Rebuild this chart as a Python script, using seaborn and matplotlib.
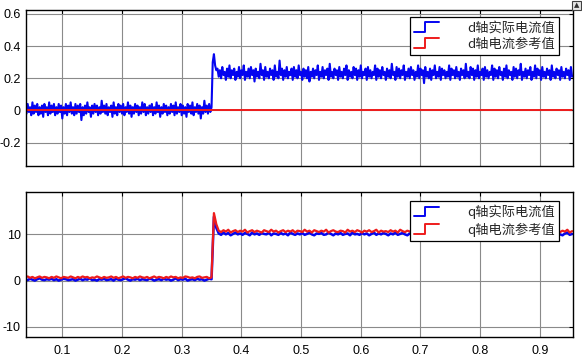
import numpy as np
import matplotlib
matplotlib.use("Agg")
import matplotlib.pyplot as plt
import seaborn as sns
from matplotlib.legend_handler import HandlerBase
from matplotlib.lines import Line2D
from matplotlib.patches import Rectangle

# sample clocks of the scope (s)
t0 = 0.038
d_dt = 0.002
d_samples = 459
q_dt = 0.004
q_samples = 230

# d axis actual current, hundredths of A
d_act_pre = [3, -2, 4, -1, 2, -3, 5, -2, 3, -1, 4, -3, 2, -2, 3, -4, 4, -1, 2, -3,
             5, -2, 3, -1, 4, -3, 2, -2, 4, -1, 3, -5, 2, -2, 4, -3, 3, -1, 5, -2,
             2, -3, 4, -2, 3, -1, 4, -6, 2, -3, 3, -2, 5, -1, 2, -4, 3, -2, 4, -1,
             3, -3, 2, -2, 6, -1, 3, -2, 4, -3, 2, -1, 3, -4, 5, -2, 2, -3, 4, -1,
             3, -2, 4, -3, 2, -1, 5, -2, 3, -4, 2, -2, 4, -1, 3, -3, 2, -2, 5, -1,
             4, -3, 2, -2, 3, -1, 4, -3, 2, -2, 5, -1, 3, -4, 2, -2, 4, -1, 3, -3,
             2, -2, 4, -1, 3, -3, 5, -2, 2, -1, 4, -3, 3, -2, 2, -4, 4, -1, 3, -2,
             5, -3, 2, -1, 4, -2, 3, -5, 2, -2, 6, -1, 3, -2, 4, -1, 2]
d_act_step = [30, 35, 28, 25]
d_act_post = [26, 21, 25, 20, 27, 22, 24, 19, 26, 21, 28, 20, 25, 22, 26, 19, 24, 21, 27, 20,
              25, 22, 28, 19, 24, 21, 26, 20, 27, 22, 25, 18, 26, 21, 24, 20, 29, 22, 25, 19,
              27, 21, 24, 20, 26, 22, 25, 19, 28, 21, 24, 20, 31, 22, 26, 19, 25, 21, 27, 20,
              24, 22, 26, 19, 27, 21, 25, 20, 28, 22, 24, 19, 26, 21, 25, 20, 27, 18, 24, 21,
              26, 20, 25, 22, 28, 19, 24, 21, 27, 20, 25, 22, 26, 19, 29, 21, 24, 20, 26, 22,
              25, 19, 27, 21, 24, 20, 26, 22, 28, 19, 25, 21, 24, 20, 27, 22, 26, 19, 25, 21,
              28, 20, 24, 22, 26, 19, 27, 21, 25, 20, 24, 22, 28, 19, 26, 21, 25, 20, 27, 22,
              24, 19, 26, 21, 25, 20, 29, 22, 24, 19, 27, 21, 26, 20, 25, 22, 28, 19, 24, 21,
              26, 20, 27, 22, 25, 19, 24, 21, 28, 20, 26, 22, 25, 17, 27, 21, 24, 20, 26, 19,
              25, 22, 28, 20, 24, 21, 27, 19, 26, 22, 25, 20, 24, 21, 28, 19, 26, 22, 25, 20,
              27, 21, 24, 19, 26, 22, 25, 20, 29, 21, 24, 20, 27, 22, 26, 19, 25, 21, 28, 20,
              24, 22, 26, 19, 27, 21, 25, 20, 24, 22, 28, 19, 26, 21, 25, 20, 27, 22, 24, 19,
              26, 21, 28, 20, 25, 22, 24, 19, 27, 21, 26, 20, 25, 22, 29, 19, 24, 21, 26, 20,
              25, 22, 27, 19, 24, 21, 28, 20, 26, 22, 25, 19, 27, 21, 24, 20, 26, 22, 25, 19,
              28, 21, 24, 20, 26, 22, 25, 19, 27, 21, 24, 20, 26, 22, 25, 19, 27, 21]

# d axis reference current (A)
d_ref_time = [0.038, 0.954]
d_ref = [0.0, 0.0]

# q axis actual current, tenths of A
q_act_pre = [3, 1, 4, 2, 0, 3, 5, 2, 1, 3, 2, 4, 1, 3, 0, 2, 4, 3, 1, 2,
             3, 0, 2, 4, 1, 3, 2, 5, 1, 2, 0, 3, 2, 4, 1, 2, 3, 0, 4, 2,
             1, 3, 5, 2, 0, 3, 2, 4, 1, 3, 2, 1, 4, 3, 0, 2, 3, 1, 4, 2,
             3, 0, 2, 5, 1, 3, 2, 4, 0, 2, 3, 1, 4, 2, 3, 0, 2, 4, 3]
q_act_step = [138, 114]
q_act_post = [102, 99, 104, 100, 103, 98, 101, 104, 100, 102, 99, 103, 101, 98, 104, 100, 102, 99, 103, 101,
              100, 104, 98, 102, 101, 99, 103, 100, 102, 98, 104, 101, 99, 102, 100, 103, 99, 101, 104, 100,
              98, 102, 101, 103, 99, 100, 104, 101, 98, 102, 100, 103, 99, 101, 102, 98, 104, 100, 101, 99,
              103, 100, 102, 98, 101, 104, 99, 102, 100, 103, 101, 98, 102, 100, 104, 99, 101, 103, 100, 98,
              102, 101, 99, 104, 100, 102, 98, 103, 101, 99, 100, 102, 104, 98, 101, 103, 99, 100, 102, 101,
              98, 104, 100, 102, 99, 103, 101, 98, 102, 100, 104, 99, 101, 103, 100, 98, 102, 101, 99, 104,
              100, 102, 98, 103, 101, 99, 100, 104, 102, 98, 101, 103, 99, 100, 102, 101, 98, 104, 100, 102,
              99, 103, 101, 100, 98, 102, 104, 99, 101]

# q axis reference current, tenths of A
q_ref_pre = [7, 9, 6, 8, 5, 7, 9, 6, 8, 7, 5, 8, 6, 9, 7, 5, 8, 7, 6, 9,
             7, 5, 8, 6, 9, 7, 8, 5, 7, 6, 9, 7, 5, 8, 6, 7, 9, 6, 8, 5,
             7, 9, 6, 8, 7, 5, 8, 6, 9, 7, 6, 8, 5, 7, 9, 6, 8, 7, 5, 8,
             6, 9, 7, 8, 5, 7, 6, 9, 8, 6, 7, 5, 8, 9, 6, 7, 8, 5, 7]
q_ref_step = [146, 122]
q_ref_post = [108, 105, 109, 106, 110, 104, 107, 109, 105, 108, 106, 110, 104, 107, 109, 105, 108, 106, 104, 109,
              107, 105, 110, 106, 108, 104, 107, 109, 105, 108, 106, 109, 104, 108, 107, 105, 110, 106, 108, 104,
              109, 107, 105, 108, 106, 110, 104, 107, 109, 106, 105, 108, 107, 104, 110, 106, 108, 105, 109, 107,
              104, 108, 106, 109, 105, 107, 110, 104, 108, 106, 107, 105, 109, 106, 108, 104, 110, 107, 105, 108,
              106, 109, 104, 107, 108, 105, 110, 106, 104, 109, 107, 105, 108, 106, 110, 104, 107, 109, 105, 108,
              106, 104, 109, 107, 105, 110, 106, 108, 104, 107, 109, 105, 108, 106, 107, 104, 110, 105, 108, 106,
              109, 107, 104, 108, 105, 106, 110, 107, 104, 109, 105, 108, 106, 107, 104, 109, 105, 110, 106, 108,
              107, 104, 109, 105, 108, 106, 110, 104, 107]

x_ticks = [0.1, 0.2, 0.3, 0.4, 0.5, 0.6, 0.7, 0.8, 0.9]
d_yticks = [-0.2, 0, 0.2, 0.4, 0.6]
d_ylabels = ["-0.2", "0", "0.2", "0.4", "0.6"]
q_yticks = [-10, 0, 10]
q_ylabels = ["-10", "0", "10"]

d_labels = ["d轴实际电流值", "d轴电流参考值"]
q_labels = ["q轴实际电流值", "q轴电流参考值"]

t_d = t0 + d_dt * np.arange(d_samples)
t_q = t0 + q_dt * np.arange(q_samples)
d_act = np.array(d_act_pre + d_act_step + d_act_post) / 100.0
q_act = np.array(q_act_pre + q_act_step + q_act_post) / 10.0
q_ref = np.array(q_ref_pre + q_ref_step + q_ref_post) / 10.0

blue = "#0505f0"
red = "#ee1c1c"

sns.set_style("white")
plt.rcParams["font.family"] = ["Liberation Sans", "Noto Sans CJK SC"]


class StepHandler(HandlerBase):
  # matlab scope style legend icon: a little step
  def create_artists(self, legend, orig_handle, xdescent, ydescent,
                     width, height, fontsize, trans):
    x0 = -xdescent
    y0 = -ydescent
    xm = x0 + width * 0.45
    line = Line2D([x0, xm, xm, x0 + width],
                  [y0, y0, y0 + height, y0 + height],
                  color=orig_handle.get_color(), lw=1.4)
    line.set_transform(trans)
    return [line]


def style_axes(ax, yticks, ylabels, ylim, show_x):
  ax.set_xlim(0.0387, 0.955)
  ax.set_ylim(*ylim)
  ax.set_xticks(x_ticks)
  ax.set_xticklabels([f"{v:g}" for v in x_ticks] if show_x else [])
  ax.set_yticks(yticks)
  ax.set_yticklabels(ylabels)
  ax.grid(True, color="#8a8a8a", lw=0.8)
  ax.tick_params(direction="in", length=3, top=True, right=True,
                 labelsize=9, colors="black", pad=3.5)
  ax.tick_params(axis="x", pad=6)
  for s in ax.spines.values():
    s.set_color("black")
    s.set_linewidth(1.0)
  ax.set_xlabel("")
  ax.set_ylabel("")


def add_legend(ax, handles, labels, anchor):
  leg = ax.legend(handles, labels, loc="upper right", bbox_to_anchor=anchor,
                  borderaxespad=0, fancybox=False, framealpha=1,
                  edgecolor="black", handlelength=1.85, handleheight=0.75,
                  handletextpad=2.2, labelspacing=0.25, borderpad=0.3,
                  prop={"family": ["Noto Sans CJK SC"], "size": 9.5},
                  handler_map={Line2D: StepHandler()})
  leg.get_frame().set_linewidth(0.9)


fig = plt.figure(figsize=(5.82, 3.61), dpi=100)
ax1 = fig.add_axes([25.7 / 582, 1 - 166 / 361, 547 / 582, 156.5 / 361])
ax2 = fig.add_axes([25.7 / 582, 1 - 337 / 361, 547 / 582, 144.7 / 361])

sns.lineplot(x=t_d, y=d_act, ax=ax1, color=blue, lw=1.5)
sns.lineplot(x=d_ref_time, y=d_ref, ax=ax1, color=red, lw=1.4)
style_axes(ax1, d_yticks, d_ylabels, (-0.346, 0.628), False)

sns.lineplot(x=t_q, y=q_act, ax=ax2, color=blue, lw=1.8)
sns.lineplot(x=t_q, y=q_ref, ax=ax2, color=red, lw=1.6)
style_axes(ax2, q_yticks, q_ylabels, (-12.2, 19.1), True)

h_blue = Line2D([], [], color=blue)
h_red = Line2D([], [], color=red)
add_legend(ax1, [h_blue, h_red], d_labels, (0.9755, 0.95))
add_legend(ax2, [h_blue, h_red], q_labels, (0.9755, 0.942))

# small scope toolbar button in the top right corner
fig.patches.append(Rectangle((572 / 582, 351 / 361), 9 / 582, 9.5 / 361,
                             transform=fig.transFigure, facecolor="#e6e6e6",
                             edgecolor="#404040", lw=0.8))
fig.text(576.5 / 582, 355.5 / 361, "▲", fontsize=5, color="#303030",
         ha="center", va="center", family=["DejaVu Sans"])

fig.savefig("out.png", dpi=100)
